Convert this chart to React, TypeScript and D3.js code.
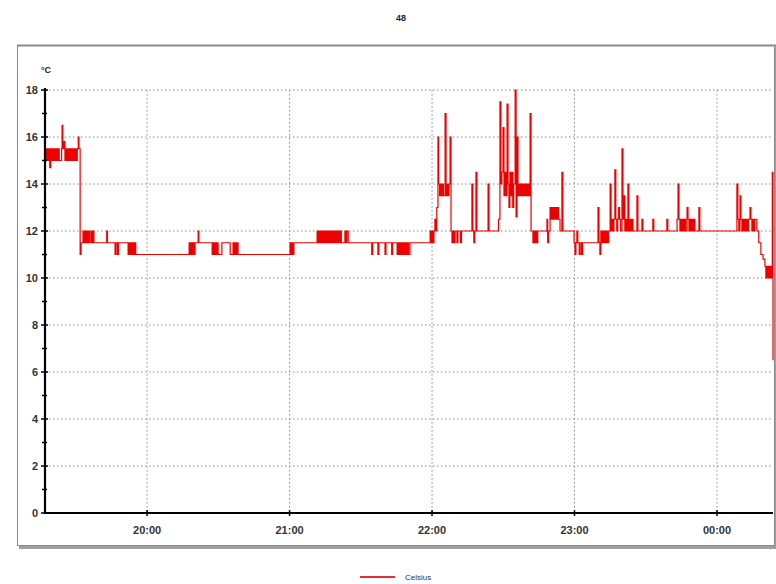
import React from "react";
import * as d3 from "d3";

// minutes after 19:00, temperature in °C
const readings: [number, number][] = [
  [17, 15.5], [17.4, 15], [17.8, 15.5], [18.2, 15], [18.6, 15.5], [19, 14.7], [19.4, 15.5], [19.8, 15],
  [20.2, 15.5], [20.6, 15], [21, 15.5], [21.4, 15], [21.8, 15.5], [22.2, 15], [22.6, 15.5], [23, 15],
  [24, 15.5], [24.2, 16.5], [24.5, 15.5], [25, 15.8], [25.4, 15], [25.8, 15.5], [26.2, 15], [26.6, 15.5],
  [27, 15], [27.4, 15.5], [27.8, 15], [28.2, 15.5], [28.6, 15], [29, 15.5], [29.4, 15], [29.8, 15.5],
  [30.2, 15], [30.6, 15.5], [31, 16], [31.3, 15.5], [31.8, 11],
  [32.2, 11.5], [33, 12], [33.4, 11.5], [33.8, 12], [34.2, 11.5], [34.6, 12], [35, 11.5], [35.4, 12],
  [35.8, 11.5], [36.4, 12], [36.8, 11.5], [37.2, 12], [37.6, 11.5], [43, 12], [43.3, 11.5],
  [46.5, 11], [46.9, 11.5], [47.5, 11], [47.9, 11.5], [52, 11], [52.4, 11.5], [52.8, 11], [53.2, 11.5],
  [53.6, 11], [54, 11.5], [54.4, 11], [54.8, 11.5], [55.2, 11], [55.8, 11],
  [77.7, 11.5], [78.1, 11], [78.5, 11.5], [78.9, 11], [79.3, 11.5], [79.7, 11], [80.2, 11.5], [81.5, 12],
  [81.8, 11.5], [87.4, 11], [87.8, 11.5], [88.2, 11], [88.6, 11.5], [89, 11], [89.4, 11.5], [89.9, 11],
  [91.5, 11.5], [95, 11], [96.2, 11.5], [96.6, 11], [97, 11.5], [97.4, 11], [97.8, 11.5], [98.3, 11],
  [120.2, 11.5], [120.6, 11], [121, 11.5], [121.4, 11], [121.8, 11.5],
  [131.6, 12], [132, 11.5], [132.4, 12], [132.8, 11.5], [133.2, 12], [133.6, 11.5], [134, 12], [134.4, 11.5],
  [134.8, 12], [135.2, 11.5], [135.6, 12], [136, 11.5], [136.4, 12], [136.8, 11.5], [137.2, 12], [137.6, 11.5],
  [138, 12], [138.4, 11.5], [138.8, 12], [139.2, 11.5], [139.6, 12], [140, 11.5], [140.5, 12], [140.9, 11.5],
  [141.3, 12], [141.8, 11.5], [143.3, 12], [143.7, 11.5], [144.1, 12], [144.7, 11.5],
  [154.6, 11], [155, 11.5], [157.2, 11], [157.6, 11.5], [160.2, 11], [160.6, 11.5], [163, 11], [163.4, 11.5],
  [165.3, 11], [165.7, 11.5], [166.1, 11], [166.5, 11.5], [166.9, 11], [167.3, 11.5], [167.7, 11], [168.1, 11.5],
  [168.5, 11], [168.9, 11.5], [169.3, 11], [169.7, 11.5], [170.1, 11], [170.7, 11.5],
  [179.2, 12], [179.6, 11.5], [180, 12], [180.4, 11.5], [180.8, 12], [181.2, 12.5], [181.6, 12], [182, 13],
  [182.5, 16], [182.8, 14], [183.2, 13.5], [183.6, 14], [184, 13.5], [184.4, 14], [184.8, 13.5], [185.5, 17],
  [185.9, 13.5], [186.3, 14], [186.7, 13.5], [187.1, 14], [187.6, 16], [188, 12], [188.4, 11.5], [188.8, 12],
  [189.2, 11.5], [189.7, 12], [190.5, 11.5], [190.9, 12], [192, 11.5], [192.4, 12],
  [196.8, 14], [197.2, 12], [197.6, 11.5], [198, 12], [198.5, 14.5], [198.9, 12], [203.6, 14], [204, 12],
  [208, 12.5], [208.6, 17.5], [209, 14], [209.4, 14.5], [209.9, 16.4], [210.3, 13.5], [210.7, 14.5], [211.1, 13.5],
  [211.6, 17.4], [212, 14], [212.4, 13], [212.8, 14.5], [213.2, 13.5], [213.6, 14.5], [214, 13], [214.4, 14],
  [215, 18], [215.4, 12.6], [215.8, 16], [216.2, 13.5], [216.6, 14], [217, 13.5], [217.4, 14], [217.8, 13.5],
  [218.2, 14], [218.6, 13.5], [219, 14], [219.4, 13.5], [219.8, 14], [220.2, 13.5], [220.6, 14], [221, 13.5],
  [221.3, 17], [221.7, 12], [222.5, 11.5], [222.9, 12], [223.3, 11.5], [223.7, 12], [224.1, 11.5], [224.5, 12],
  [228.4, 12.5], [228.7, 11.5], [229.1, 12], [229.7, 13], [230.1, 12.5], [230.5, 13], [230.9, 12.5], [231.3, 13],
  [231.7, 12.5], [232.1, 13], [232.5, 12.5], [232.9, 13], [233.3, 12.5], [233.9, 12], [234.7, 14.5], [235.1, 12],
  [239.4, 12], [239.8, 11.5], [240.2, 11], [240.6, 11.5], [241, 12], [241.4, 11.5], [242, 11], [242.4, 11.5],
  [243, 11], [243.4, 11.5],
  [249.9, 13], [250.3, 11.5], [250.7, 11], [251.1, 12], [251.5, 11.5], [251.9, 12], [252.3, 11.5], [252.7, 12],
  [253.1, 11.5], [253.5, 12], [253.9, 11.5], [254.3, 12], [255, 14], [255.4, 12], [255.8, 12.5], [256.2, 12],
  [256.6, 12.5], [257, 14.6], [257.4, 12.5], [257.8, 12], [258.2, 12.5], [258.6, 13], [259, 12.5], [259.4, 12],
  [260, 15.5], [260.4, 12.5], [260.8, 13.5], [261.2, 12], [261.6, 12.5], [262, 12], [262.5, 14], [262.9, 12],
  [263.3, 12.5], [263.7, 12], [264.2, 12.5], [264.6, 12], [266.3, 13.5], [266.7, 12], [268.4, 12.5], [268.8, 12],
  [273, 12.5], [273.4, 12], [278.9, 12.5], [279.3, 12],
  [283.2, 12.5], [283.6, 14], [284, 12.5], [284.4, 12], [284.8, 12.5], [285.2, 12], [285.6, 12.5], [286, 12],
  [286.4, 12.5], [286.8, 12], [287.4, 13], [287.8, 12.5], [288.2, 12], [288.6, 12.5], [289, 12], [289.4, 12.5],
  [289.8, 12], [290.2, 12.5], [290.7, 12], [292.4, 13], [292.8, 12],
  [308.4, 14], [308.8, 12.5], [309.2, 12], [309.7, 13.5], [310.1, 12.5], [310.5, 12], [310.9, 12.5], [311.3, 12],
  [311.7, 12.5], [312.1, 12], [312.5, 12.5], [312.9, 12], [313.3, 12.5], [313.9, 13], [314.3, 12.5], [314.7, 12],
  [315.1, 12.5], [315.5, 12], [315.9, 12.5], [316.8, 12], [317.6, 11.5], [318.5, 11], [319.4, 10.8], [320.2, 10.5],
  [320.6, 10], [321, 10.5], [321.4, 10], [321.8, 10.5], [322.2, 10], [322.6, 10.5], [323, 10], [323.3, 14.5],
  [323.6, 6.5],
];

const yTicks = [0, 2, 4, 6, 8, 10, 12, 14, 16, 18];
const yMinorTicks = [1, 3, 5, 7, 9, 11, 13, 15, 17];
const xTickMinutes = [60, 120, 180, 240, 300];
const xTickLabels = ["20:00", "21:00", "22:00", "23:00", "00:00"];
const title = "48";
const unit = "°C";
const seriesName = "Celsius";

const base = new Date(2000, 0, 1, 19, 0, 0).getTime();
const toDate = (m: number) => new Date(base + m * 60000);

export default function App() {
  const W = 776, H = 584;
  const left = 45, right = 773, top = 90, bottom = 513;

  const x = d3.scaleTime().domain([toDate(17), toDate(323.6)]).range([left, right]);
  const y = d3.scaleLinear().domain([0, 18]).range([bottom, top]);

  const line = d3
    .line<[number, number]>()
    .x((d) => x(toDate(d[0])))
    .y((d) => y(d[1]))
    .curve(d3.curveStepAfter);

  const font = "Arial, 'Liberation Sans', sans-serif";

  return (
    <svg width={W} height={H} style={{ position: "absolute", left: 0, top: 0, background: "#fff" }}>
      {/* frame with shadow */}
      <rect x={19} y={47} width={757} height={502} fill="#a0a0a0" />
      <rect x={17.5} y={45.5} width={757} height={500} fill="#fff" stroke="#8a8a8a" strokeWidth={1} />
      <line x1={17} x2={776} y1={45.5} y2={45.5} stroke="#8a8a8a" strokeWidth={2} />

      <text x={401} y={21} textAnchor="middle" fontFamily={font} fontWeight="bold" fontSize={9} fill="#222">
        {title}
      </text>

      {/* grid */}
      {yTicks.filter((t) => t > 0).map((t) => (
        <line key={"gy" + t} x1={left} x2={right} y1={y(t)} y2={y(t)} stroke="#8c8c8c" strokeWidth={1} strokeDasharray="1.5,2.5" />
      ))}
      {xTickMinutes.map((m) => (
        <line key={"gx" + m} x1={x(toDate(m))} x2={x(toDate(m))} y1={top} y2={bottom} stroke="#8c8c8c" strokeWidth={1} strokeDasharray="1.5,2.5" />
      ))}

      {/* series */}
      <path d={line(readings) || ""} fill="none" stroke="#ee0000" strokeWidth={1.2} />

      {/* axes */}
      <line x1={left} x2={left} y1={top - 2} y2={bottom + 1} stroke="#000" strokeWidth={2.2} />
      <line x1={left - 1} x2={right} y1={bottom} y2={bottom} stroke="#000" strokeWidth={2.2} />
      {yTicks.map((t) => (
        <g key={"yt" + t}>
          <line x1={left - 4} x2={left + 3} y1={y(t)} y2={y(t)} stroke="#000" strokeWidth={1.5} />
          <text x={38} y={y(t) + 4} textAnchor="end" fontFamily={font} fontWeight="bold" fontSize={11} fill="#333">
            {t}
          </text>
        </g>
      ))}
      {yMinorTicks.map((t) => (
        <line key={"ym" + t} x1={left - 3} x2={left + 2} y1={y(t)} y2={y(t)} stroke="#000" strokeWidth={1.5} />
      ))}
      {xTickMinutes.map((m, i) => (
        <g key={"xt" + m}>
          <line x1={x(toDate(m))} x2={x(toDate(m))} y1={bottom - 3} y2={bottom + 3} stroke="#000" strokeWidth={1.5} />
          <text x={x(toDate(m))} y={bottom + 21} textAnchor="middle" fontFamily={font} fontWeight="bold" fontSize={11} fill="#333">
            {xTickLabels[i]}
          </text>
        </g>
      ))}
      <text x={41} y={73} fontFamily={font} fontWeight="bold" fontSize={9} fill="#222">
        {unit}
      </text>

      {/* legend */}
      <line x1={360} x2={395} y1={577} y2={577} stroke="#e03030" strokeWidth={2} />
      <text x={405} y={580} fontFamily={font} fontSize={8} fill="#333">
        {seriesName}
      </text>
    </svg>
  );
}
